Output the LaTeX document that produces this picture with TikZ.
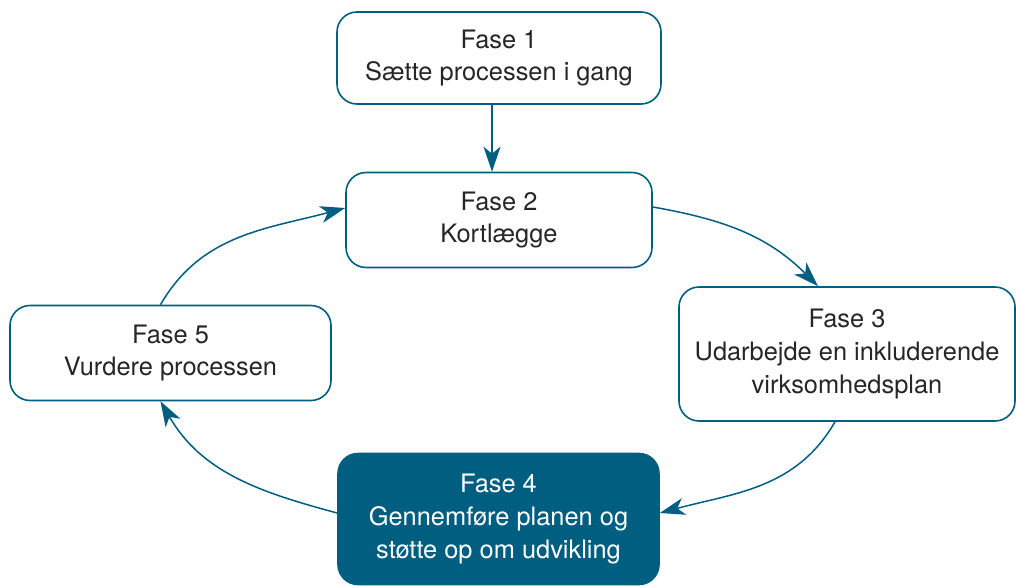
\documentclass[tikz,border=0pt]{standalone}
\usepackage{fontspec}
\setmainfont{TeX Gyre Heros}
\usetikzlibrary{arrows.meta}
\definecolor{fasebla}{RGB}{0, 94, 128}

\begin{document}
\begin{tikzpicture}[x=0.5pt, y=0.5pt,
		>={Stealth[length=12.5pt,width=8.5pt,inset=3.5pt]},   %Pfeilspitzen
		fase/.style={draw=fasebla, line width=0.8pt, rounded corners=10pt, align=center,
			inner sep=0pt, font=\fontsize{12.7}{16.4}\selectfont, text=black!85},
		aktiv/.style={fase, fill=fasebla, text=white},
		pil/.style={->, fasebla, line width=0.75pt}]
	%Rahmen
	\useasboundingbox (0,0) rectangle (1016,585);
	% Faser
	\node[fase, minimum width=162pt, minimum height=46pt] (fase1) at (499,527) {Fase 1\\Sætte processen i gang};
	\node[fase, minimum width=153pt, minimum height=47.5pt] (fase2) at (499,365) {Fase 2\\Kortlægge};
	\node[fase, minimum width=168pt, minimum height=67pt] (fase3) at (847,231) {Fase 3\\Udarbejde en inkluderende\\virksomhedsplan};
	\node[aktiv, minimum width=160.5pt, minimum height=65.5pt] (fase4) at (498.5,66) {Fase 4\\Gennemføre planen og\\støtte op om udvikling};
	\node[fase, minimum width=160.5pt, minimum height=47.5pt] (fase5) at (170.5,232) {Fase 5\\Vurdere processen};
	% Pile
	\draw[pil] ([xshift=-3.5pt]fase1.south) -- ([xshift=-3.5pt]fase2.north);
	\draw[pil] ([yshift=6.5pt]fase2.east) to[out=-10, in=135] ([xshift=-14.5pt]fase3.north);
	\draw[pil] ([xshift=-6pt]fase3.south) to[out=-120, in=15] ([yshift=3pt]fase4.east);
	\draw[pil] ([yshift=3pt]fase4.west) to[out=165, in=-60] ([xshift=-5pt]fase5.south);
	\draw[pil] ([xshift=-5pt]fase5.north) to[out=60, in=195] ([yshift=6pt]fase2.west);
\end{tikzpicture}
\end{document}
